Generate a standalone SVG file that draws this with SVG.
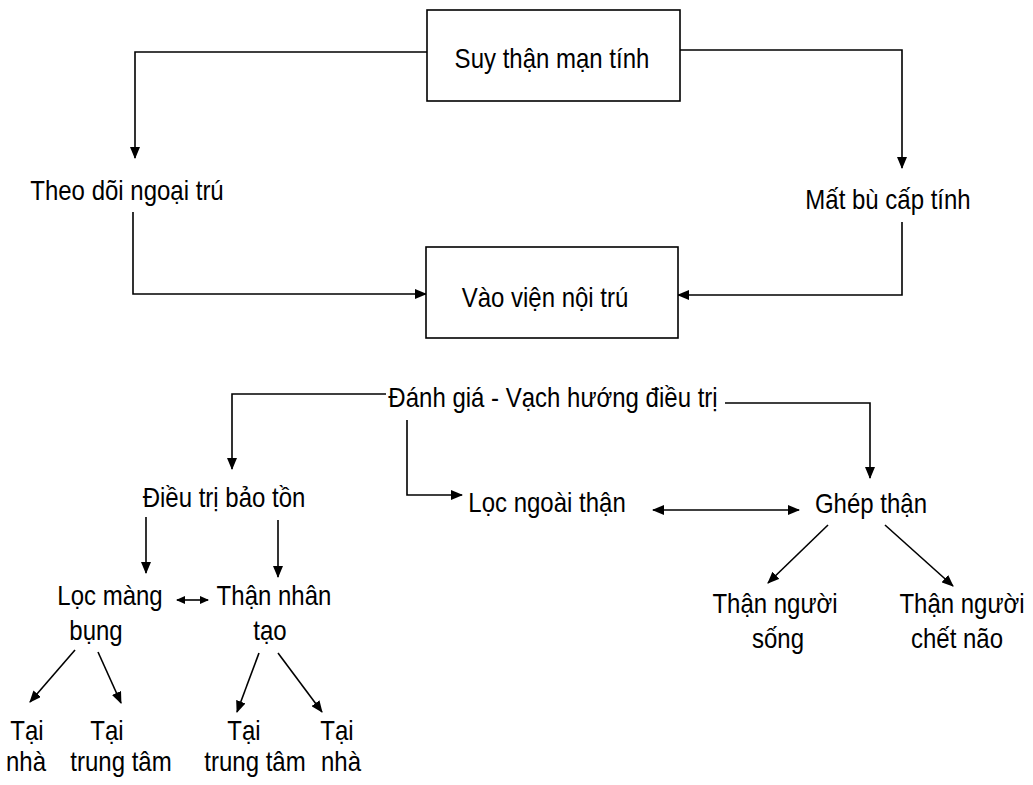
<svg xmlns="http://www.w3.org/2000/svg" width="1033" height="785" viewBox="0 0 1033 785">
<defs>
<style>
.t{font-family:"Liberation Sans",Arial,sans-serif;font-size:24px;fill:#000;text-anchor:middle}
.box{fill:#fff;stroke:#000;stroke-width:1.6}
.c{fill:none;stroke:#000;stroke-width:1.6}
.a{marker-end:url(#ah)}
.d{marker-start:url(#ah);marker-end:url(#ah)}
.ds{marker-start:url(#ahs);marker-end:url(#ahs)}
</style>
<marker id="ah" viewBox="0 0 12 10" markerWidth="12" markerHeight="10" refX="11" refY="5" orient="auto-start-reverse" markerUnits="userSpaceOnUse">
<path d="M0,0 L12,5 L0,10 Z" fill="#000"/>
</marker>
<marker id="ahs" viewBox="0 0 9 8" markerWidth="9" markerHeight="8" refX="8" refY="4" orient="auto-start-reverse" markerUnits="userSpaceOnUse">
<path d="M0,0 L9,4 L0,8 Z" fill="#000"/>
</marker>
</defs>
<rect width="1033" height="785" fill="#fff"/>
<g id="connectors">
<path class="c a" d="M427,52 H135 V158"/>
<path class="c a" d="M680,50 H902 V168"/>
<path class="c a" d="M133,212 V294 H426"/>
<path class="c a" d="M902,222 V295 H678"/>
<path class="c a" d="M386,394 H232 V469"/>
<path class="c a" d="M725,403 H870 V478"/>
<path class="c a" d="M407,420 V495 H462"/>
<path class="c d" d="M653,510 H799"/>
<path class="c a" d="M146,517 V573"/>
<path class="c a" d="M278,520 V577"/>
<path class="c ds" d="M177,600 H208"/>
<path class="c a" d="M75,650 L30,702"/>
<path class="c a" d="M98,652 L121,703"/>
<path class="c a" d="M259,653 L237,712"/>
<path class="c a" d="M278,653 L322,712"/>
<path class="c a" d="M828,525 L768,583"/>
<path class="c a" d="M885,525 L953,586"/>
</g>
<g id="n-suy-than">
<rect class="box" x="427" y="10" width="253" height="91"/>
<text class="t" transform="translate(552,68) scale(1,1.15)">Suy thận mạn tính</text>
</g>
<g id="n-theo-doi">
<text class="t" transform="translate(127,200) scale(1,1.15)">Theo dõi ngoại trú</text>
</g>
<g id="n-mat-bu">
<text class="t" transform="translate(888,209) scale(1,1.15)">Mất bù cấp tính</text>
</g>
<g id="n-vao-vien">
<rect class="box" x="426" y="247" width="252" height="91"/>
<text class="t" transform="translate(545,307) scale(1,1.15)">Vào viện nội trú</text>
</g>
<g id="n-danh-gia">
<text class="t" transform="translate(553,407) scale(1,1.15)">Đánh giá - Vạch hướng điều trị</text>
</g>
<g id="n-dieu-tri">
<text class="t" transform="translate(224,507) scale(1,1.15)">Điều trị bảo tồn</text>
</g>
<g id="n-loc-ngoai">
<text class="t" transform="translate(547,512) scale(1,1.15)">Lọc ngoài thận</text>
</g>
<g id="n-ghep">
<text class="t" transform="translate(871,513) scale(1,1.15)">Ghép thận</text>
</g>
<g id="n-loc-mang">
<text class="t" transform="translate(110,605) scale(1,1.15)">Lọc màng</text>
<text class="t" transform="translate(96,640) scale(1,1.15)">bụng</text>
</g>
<g id="n-than-nhan-tao">
<text class="t" transform="translate(274,605) scale(1,1.15)">Thận nhân</text>
<text class="t" transform="translate(270,640) scale(1,1.15)">tạo</text>
</g>
<g id="n-tai-nha-1">
<text class="t" transform="translate(27,740) scale(1,1.15)">Tại</text>
<text class="t" transform="translate(26,771) scale(1,1.15)">nhà</text>
</g>
<g id="n-tai-tt-1">
<text class="t" transform="translate(107,740) scale(1,1.15)">Tại</text>
<text class="t" transform="translate(121,771) scale(1,1.15)">trung tâm</text>
</g>
<g id="n-tai-tt-2">
<text class="t" transform="translate(244,740) scale(1,1.15)">Tại</text>
<text class="t" transform="translate(255,771) scale(1,1.15)">trung tâm</text>
</g>
<g id="n-tai-nha-2">
<text class="t" transform="translate(337,740) scale(1,1.15)">Tại</text>
<text class="t" transform="translate(341,771) scale(1,1.15)">nhà</text>
</g>
<g id="n-than-song">
<text class="t" transform="translate(775,613) scale(1,1.15)">Thận người</text>
<text class="t" transform="translate(778,648) scale(1,1.15)">sống</text>
</g>
<g id="n-than-chet">
<text class="t" transform="translate(962,613) scale(1,1.15)">Thận người</text>
<text class="t" transform="translate(957,648) scale(1,1.15)">chết não</text>
</g>
</svg>
